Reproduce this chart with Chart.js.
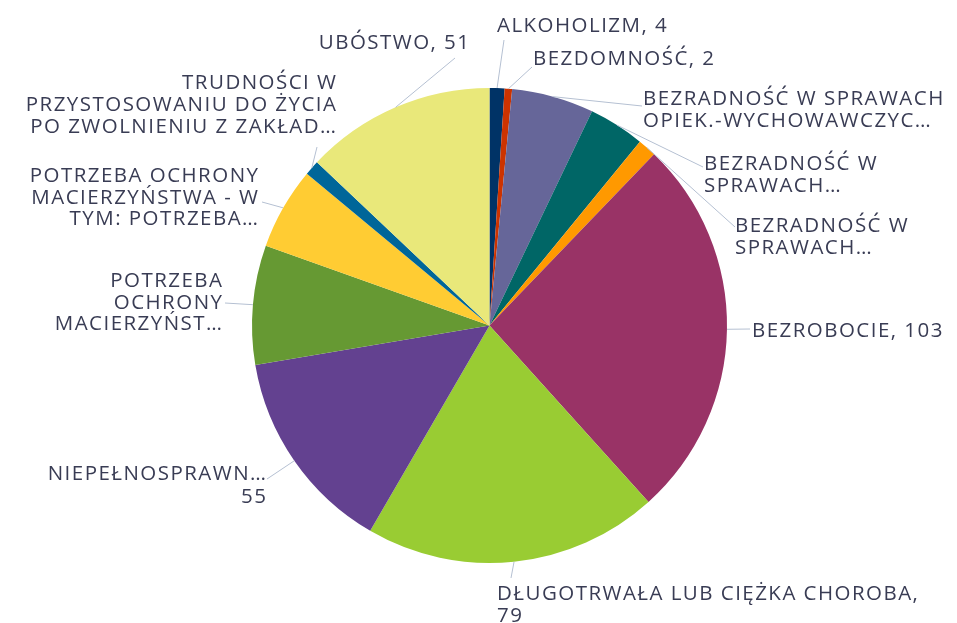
<!DOCTYPE html>
<html><head><meta charset="utf-8">
<script src="https://cdn.jsdelivr.net/npm/chart.js@4/dist/chart.umd.min.js"></script>
<style>html,body{margin:0;padding:0;background:#fff;overflow:hidden}canvas{display:block}</style>
</head><body>
<canvas id="c" width="957" height="623"></canvas>
<script>
const categories = [
  "ALKOHOLIZM",
  "BEZDOMNOŚĆ",
  "BEZRADNOŚĆ W SPRAWACH OPIEK.-WYCHOWAWCZYC…",
  "BEZRADNOŚĆ W SPRAWACH… (1)",
  "BEZRADNOŚĆ W SPRAWACH… (2)",
  "BEZROBOCIE",
  "DŁUGOTRWAŁA LUB CIĘŻKA CHOROBA",
  "NIEPEŁNOSPRAWNOŚĆ",
  "POTRZEBA OCHRONY MACIERZYŃST…",
  "POTRZEBA OCHRONY MACIERZYŃSTWA - W TYM: POTRZEBA…",
  "TRUDNOŚCI W PRZYSTOSOWANIU DO ŻYCIA PO ZWOLNIENIU Z ZAKŁAD…",
  "UBÓSTWO"
];
const values = [4, 2, 22, 15, 5, 103, 79, 55, 32, 22, 4, 51];
const sliceColors = ["#003366", "#cc3300", "#666699", "#006666", "#ff9900", "#993366",
  "#99cc33", "#634190", "#669933", "#ffcc33", "#006699", "#e9e87a"];
const labelLines = [
  ["ALKOHOLIZM, {v}"],
  ["BEZDOMNOŚĆ, {v}"],
  ["BEZRADNOŚĆ W SPRAWACH", "OPIEK.-WYCHOWAWCZYC…"],
  ["BEZRADNOŚĆ W", "SPRAWACH…"],
  ["BEZRADNOŚĆ W", "SPRAWACH…"],
  ["BEZROBOCIE, {v}"],
  ["DŁUGOTRWAŁA LUB CIĘŻKA CHOROBA,", "{v}"],
  ["NIEPEŁNOSPRAWN…", "{v}"],
  ["POTRZEBA", "OCHRONY", "MACIERZYŃST…"],
  ["POTRZEBA OCHRONY", "MACIERZYŃSTWA - W", "TYM: POTRZEBA…"],
  ["TRUDNOŚCI W", "PRZYSTOSOWANIU DO ŻYCIA", "PO ZWOLNIENIU Z ZAKŁAD…"],
  ["UBÓSTWO, {v}"]
];

// label placement (text anchor, baselines, connector end)
const labelLayout = [
  {align:'left',  x:497, y:[32],            to:[504,40]},
  {align:'left',  x:533, y:[64.5],          to:[532,67]},
  {align:'left',  x:643, y:[105,127],       to:[642,106]},
  {align:'left',  x:704, y:[170,192],       to:[703,167]},
  {align:'left',  x:735, y:[232,254],       to:[735,227]},
  {align:'left',  x:752, y:[337],           to:[750,329]},
  {align:'left',  x:497, y:[600,622],       to:[511,578]},
  {align:'right', x:266, y:[480,503],       to:[267,479]},
  {align:'right', x:222, y:[287,308.5,330], to:[225,303]},
  {align:'right', x:258, y:[182,203.5,225], to:[262,202]},
  {align:'right', x:336, y:[88.5,111,133],  to:[317,147]},
  {align:'right', x:469, y:[49],            to:[455,58]}
];

const FONT_FAMILY = '"Open Sans", "DejaVu Sans", sans-serif';
const FONT_SIZE = 20.5;
const TEXT_COLOR = '#393c54';
const LINE_COLOR = '#b5c0d2';

const labelPlugin = {
  id: 'pieLabels',
  afterDatasetsDraw(chart) {
    const ctx = chart.ctx;
    const meta = chart.getDatasetMeta(0);
    ctx.save();
    ctx.font = FONT_SIZE + 'px ' + FONT_FAMILY;
    let spacing = 0;
    if ('letterSpacing' in ctx) {
      const refs = [['BEZROBOCIE, 103', 190], ['DŁUGOTRWAŁA LUB CIĘŻKA CHOROBA,', 426]];
      let s = 0;
      refs.forEach(([t, target]) => { s += (target - ctx.measureText(t).width) / t.length; });
      spacing = Math.max(0, s / refs.length);
      ctx.letterSpacing = spacing.toFixed(2) + 'px';
    }
    meta.data.forEach((arc, i) => {
      const p = arc.getProps(['x','y','startAngle','endAngle','outerRadius'], true);
      const mid = (p.startAngle + p.endAngle) / 2;
      const sx = p.x + Math.cos(mid) * p.outerRadius;
      const sy = p.y + Math.sin(mid) * p.outerRadius;
      const L = labelLayout[i];
      ctx.strokeStyle = LINE_COLOR;
      ctx.lineWidth = 1;
      ctx.beginPath();
      ctx.moveTo(sx, sy);
      ctx.lineTo(L.to[0], L.to[1]);
      ctx.stroke();
      ctx.fillStyle = TEXT_COLOR;
      ctx.textAlign = L.align;
      ctx.textBaseline = 'alphabetic';
      labelLines[i].forEach((line, j) => {
        const t = line.replace('{v}', String(values[i]));
        const dx = L.align === 'right' ? spacing : 0;
        ctx.fillText(t, L.x + dx, L.y[j]);
      });
    });
    ctx.restore();
  }
};

new Chart(document.getElementById('c'), {
  type: 'pie',
  data: {
    labels: categories,
    datasets: [{
      data: values,
      backgroundColor: sliceColors,
      borderWidth: 0
    }]
  },
  options: {
    responsive: false,
    devicePixelRatio: 1,
    animation: false,
    layout: { padding: { top: 88, bottom: 60, left: 252, right: 230 } },
    plugins: { legend: { display: false }, tooltip: { enabled: false } }
  },
  plugins: [labelPlugin]
});
</script>
</body></html>
